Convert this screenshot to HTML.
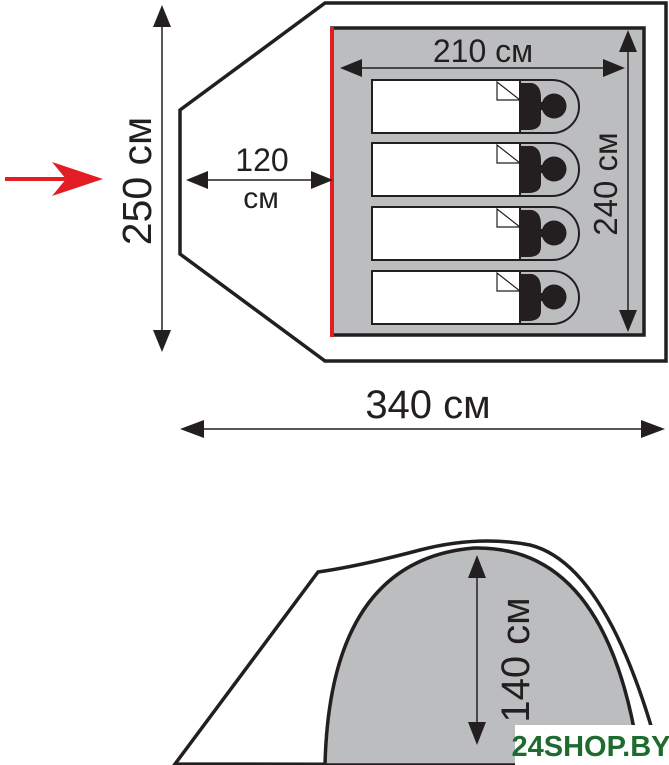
<!DOCTYPE html>
<html><head><meta charset="utf-8"><style>
html,body{margin:0;padding:0;background:#fff;width:669px;height:765px;overflow:hidden}
svg{display:block}
text{font-family:"Liberation Sans",sans-serif;fill:#231f20}
</style></head><body>
<svg width="669" height="765" viewBox="0 0 669 765" xmlns="http://www.w3.org/2000/svg">
<defs>
<g id="bag">
<path d="M372,0 H552 A27,26.5 0 0 1 552,53 H372 Z" fill="#bcbdbf" stroke="#231f20" stroke-width="2"/>
<rect x="372" y="0" width="148" height="53" fill="#fff" stroke="#231f20" stroke-width="2"/>
<path d="M507,3 H532 Q541,5 541,18 V22 H548 V30 H541 V40 Q541,50 528,50 H520 V3 Z" fill="#231f20"/>
<circle cx="554" cy="26" r="12.5" fill="#231f20"/>
<path d="M497,2 V20 H520 Z" fill="#fff" stroke="#231f20" stroke-width="1.2"/>
</g>
</defs>
<!-- top plan -->
<polygon points="180,110 325,3 666,3 666,361 325,361 180,254" fill="#fff" stroke="#231f20" stroke-width="3.5"/>
<rect x="332" y="28" width="312" height="307" fill="#bcbdbf" stroke="#231f20" stroke-width="3.5"/>
<line x1="332" y1="27" x2="332" y2="337" stroke="#e21d24" stroke-width="4"/>
<use href="#bag" y="80"/>
<use href="#bag" y="143"/>
<use href="#bag" y="207"/>
<use href="#bag" y="271"/>
<g fill="#231f20" stroke="#231f20" stroke-width="1.5">
<!-- 210 -->
<line x1="350" y1="68" x2="615" y2="68"/>
<polygon points="340,68 362,59 362,77" stroke="none"/>
<polygon points="625,68 603,59 603,77" stroke="none"/>
<!-- 240 -->
<line x1="628" y1="40" x2="628" y2="322"/>
<polygon points="628,30 619,52 637,52" stroke="none"/>
<polygon points="628,332 619,310 637,310" stroke="none"/>
<!-- 120 -->
<line x1="196" y1="180" x2="323" y2="180"/>
<polygon points="186,180 208,171 208,189" stroke="none"/>
<polygon points="333,180 311,171 311,189" stroke="none"/>
<!-- 250 -->
<line x1="162" y1="15" x2="162" y2="342"/>
<polygon points="162,5 153,27 171,27" stroke="none"/>
<polygon points="162,352 153,330 171,330" stroke="none"/>
<!-- 340 -->
<line x1="190" y1="429" x2="655" y2="429"/>
<polygon points="180,429 204,420 204,438" stroke="none"/>
<polygon points="665,429 641,420 641,438" stroke="none"/>
<!-- 140 -->
<line x1="477" y1="566" x2="477" y2="735"/>
<polygon points="477,555 468,578 486,578" stroke="none"/>
<polygon points="477,745 468,722 486,722" stroke="none"/>
</g>
<text x="483" y="62" font-size="32" text-anchor="middle">210 см</text>
<text transform="translate(617,184) rotate(-90)" font-size="33" text-anchor="middle">240 см</text>
<text x="262" y="171" font-size="32" text-anchor="middle">120</text>
<text x="261" y="208" font-size="30" text-anchor="middle">см</text>
<!-- red arrow -->
<line x1="5" y1="179" x2="80" y2="179" stroke="#e21d24" stroke-width="4"/>
<polygon points="52,162 103,179 52,196 66,179" fill="#e21d24"/>
<text transform="translate(151,181) rotate(-90)" font-size="41" text-anchor="middle">250 см</text>
<text x="428" y="418" font-size="40" text-anchor="middle">340 см</text>
<!-- side view -->
<path d="M175,764 L318,572 Q360,566 420,550 Q478,535 530,545 Q610,565 662,765 Z" fill="#fff" stroke="#231f20" stroke-width="3.5"/>
<path d="M325,765 Q330,560 474,548 Q610,545 640,765 Z" fill="#bcbdbf" stroke="#231f20" stroke-width="3.5"/>
<g fill="#231f20" stroke="#231f20" stroke-width="1.5">
<line x1="477" y1="566" x2="477" y2="735"/>
<polygon points="477,555 468,578 486,578" stroke="none"/>
<polygon points="477,745 468,722 486,722" stroke="none"/>
</g>
<text transform="translate(529,660) rotate(-90)" font-size="40" text-anchor="middle">140 см</text>
<rect x="515" y="725" width="154" height="40" fill="#fff"/>
<text x="591" y="756" font-size="29" font-weight="bold" text-anchor="middle" style="fill:#1e6b2f">24SHOP.BY</text>
</svg>
</body></html>
